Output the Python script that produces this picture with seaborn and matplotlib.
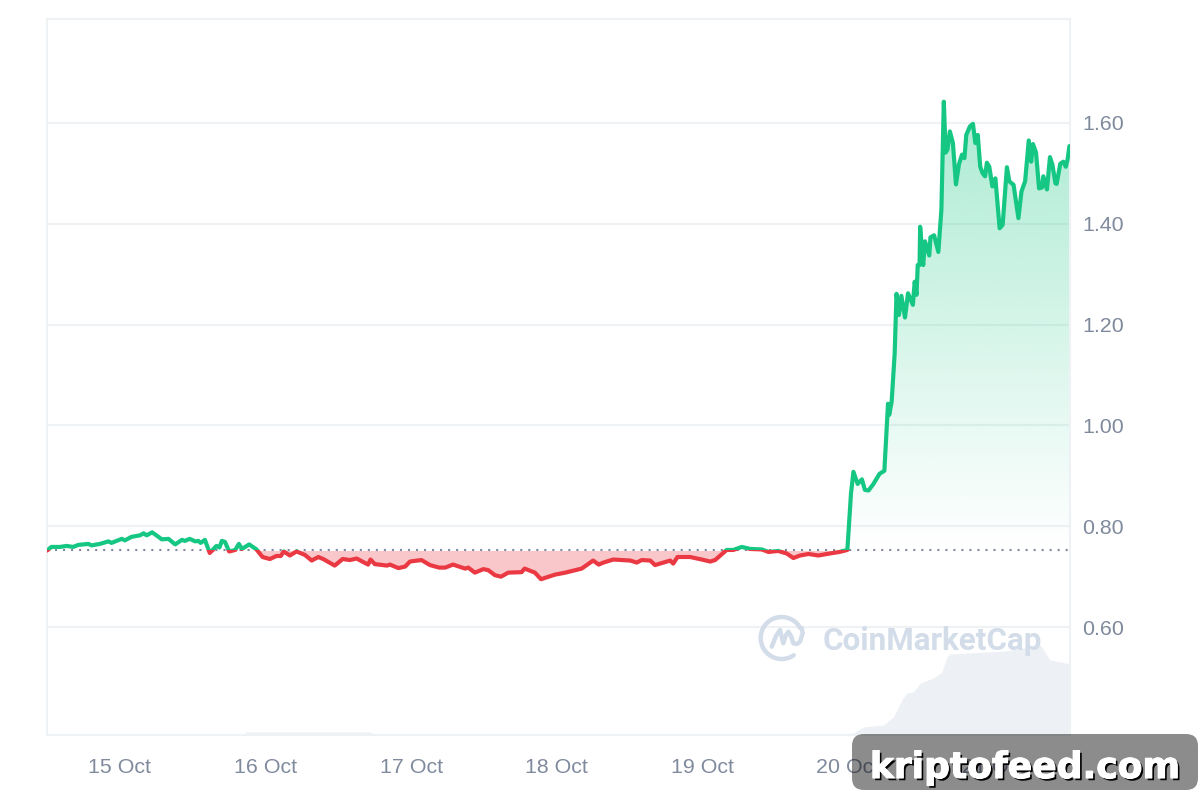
import numpy as np
import pandas as pd
import seaborn as sns
import matplotlib
matplotlib.use("Agg")
import matplotlib.pyplot as plt
import matplotlib.patheffects as pe
from matplotlib.lines import Line2D
from matplotlib.patches import FancyBboxPatch, Rectangle
from matplotlib.transforms import IdentityTransform

# hours since 15 Oct 00:00, price
hours = [
    -12.0, -11.8, -11.3, -9.9, -8.8, -7.7, -6.9, -5.2, -4.7, -3.3, -1.9, -1.4, 0.3, 0.8, 1.9, 3.3, 3.9, 4.4,
    5.3, 6.0, 6.9, 8.0, 9.1, 10.2, 10.7, 11.5, 12.4, 12.9, 13.3, 14.0, 14.8, 15.9, 16.4, 16.8, 17.3, 18.0,
    19.0, 19.6, 20.1, 21.3, 22.5, 23.5, 24.7, 25.8, 26.5, 27.0, 28.0, 29.1, 30.5, 31.6, 32.7, 33.5, 35.4,
    36.7, 37.9, 39.0, 40.9, 41.3, 42.0, 44.0, 44.5, 45.9, 47.0, 47.8, 49.7, 51.1, 52.6, 53.6, 54.9, 56.9,
    57.4, 58.5, 59.9, 60.7, 61.8, 62.8, 64.0, 66.2, 66.7, 68.4, 69.4, 71.7, 73.4, 76.1, 78.0, 78.9, 79.7,
    81.3, 84.1, 85.2, 86.0, 87.4, 88.2, 90.7, 91.2, 91.9, 94.0, 95.9, 97.3, 98.1, 100.0, 101.1, 102.5,
    103.9, 105.8, 106.9, 108.5, 109.9, 111.0, 112.1, 113.5, 115.1, 117.0, 118.6, 119.9,
    120.5, 120.9, 121.6, 122.3, 122.8, 123.4, 124.2, 125.2, 126.0, 126.6, 126.8, 127.2, 127.7, 128.0,
    128.4, 128.8, 129.4, 129.9, 130.7, 131.0, 131.3, 131.5, 131.8, 131.9, 132.4, 132.7, 133.4, 133.6,
    134.2, 134.9, 135.4, 135.8, 136.1, 136.4, 136.8, 137.3, 137.8, 138.3, 138.8, 139.2, 139.5, 140.1,
    140.6, 141.0, 141.4, 141.8, 142.2, 142.6, 142.9, 143.3, 143.8, 144.3, 145.0, 145.5, 146.2, 146.6,
    147.3, 148.1, 148.6, 149.2, 149.8, 150.2, 150.5, 151.0, 151.5, 152.0, 152.2, 152.8, 153.3, 153.7,
    154.2, 154.4, 155.0, 155.5, 155.9, 156.2, 156.5,
]
prices = [
    0.752, 0.754, 0.759, 0.759, 0.761, 0.759, 0.763, 0.765, 0.762, 0.765, 0.770, 0.767, 0.775, 0.772, 0.779, 0.782, 0.786, 0.782,
    0.788, 0.782, 0.774, 0.775, 0.764, 0.773, 0.771, 0.775, 0.770, 0.771, 0.767, 0.773, 0.747, 0.761, 0.758, 0.771, 0.769, 0.750,
    0.753, 0.765, 0.755, 0.764, 0.754, 0.739, 0.735, 0.741, 0.741, 0.750, 0.742, 0.750, 0.743, 0.732, 0.739, 0.735, 0.722,
    0.735, 0.733, 0.736, 0.724, 0.734, 0.725, 0.722, 0.724, 0.717, 0.720, 0.730, 0.733, 0.723, 0.718, 0.718, 0.724, 0.716,
    0.718, 0.708, 0.715, 0.713, 0.703, 0.700, 0.708, 0.709, 0.716, 0.708, 0.695, 0.704, 0.708, 0.716, 0.732, 0.724, 0.728,
    0.734, 0.732, 0.728, 0.733, 0.732, 0.723, 0.732, 0.726, 0.739, 0.739, 0.734, 0.730, 0.733, 0.753, 0.753, 0.759,
    0.755, 0.754, 0.749, 0.751, 0.746, 0.737, 0.742, 0.745, 0.742, 0.746, 0.749, 0.753,
    0.865, 0.908, 0.884, 0.893, 0.872, 0.871, 0.884, 0.904, 0.910, 1.043, 1.021, 1.047, 1.143, 1.261,
    1.219, 1.257, 1.214, 1.262, 1.239, 1.285, 1.259, 1.318, 1.318, 1.394, 1.318, 1.365, 1.337, 1.373,
    1.377, 1.344, 1.428, 1.642, 1.541, 1.547, 1.583, 1.560, 1.478, 1.518, 1.537, 1.530, 1.576, 1.593,
    1.598, 1.560, 1.576, 1.513, 1.500, 1.494, 1.521, 1.513, 1.474, 1.490, 1.391, 1.398, 1.512, 1.484,
    1.477, 1.411, 1.464, 1.484, 1.565, 1.523, 1.558, 1.541, 1.470, 1.472, 1.494, 1.468, 1.532, 1.517,
    1.480, 1.479, 1.519, 1.523, 1.513, 1.527, 1.554,
]
base_price = 0.752

# volume strip at the bottom, arbitrary units (no scale shown)
vol_hours = [20.6, 20.7, 41.4, 41.5, 118.7, 120.9, 122.5, 125.8, 127.5, 128.9, 129.7, 130.8, 131.9, 134.1,
             135.5, 136.3, 136.8, 146.0, 151.7, 153.3, 155.0, 156.6]
vol_values = [0, 3, 3, 0, 0, 2, 8, 10, 18, 35, 42, 43, 52, 57, 63, 78, 81, 84, 90, 75, 73, 71]

y_ticks = [0.60, 0.80, 1.00, 1.20, 1.40, 1.60]
x_ticks = [0, 24, 48, 72, 96, 120, 144]
x_labels = ["15 Oct", "16 Oct", "17 Oct", "18 Oct", "19 Oct", "20 Oct", "21 Oct"]

GREEN = "#16c784"
RED = "#ea3943"
FRAME = "#eff2f5"
LABEL = "#808a9d"
MARK = "#d3dce9"

W, H = 1200, 800


def fx(x):
    return x / W


def fy(y):
    return 1 - y / H


sns.set_theme(style="white")
plt.rcParams["font.family"] = ["Liberation Sans", "DejaVu Sans"]

df = pd.DataFrame({"hour": hours, "price": prices})
vol = pd.DataFrame({"hour": vol_hours, "value": vol_values})

fig = plt.figure(figsize=(12, 8), dpi=100, facecolor="white")
rect = [fx(47), fy(735), (1070 - 47) / W, (735 - 19) / H]
ax_vol = fig.add_axes(rect)
ax = fig.add_axes(rect)
ax.patch.set_visible(False)

# volume behind everything
ax_vol.fill_between(vol["hour"], 0, vol["value"], color="#edf0f4", lw=0)
ax_vol.set_xlim(-12.03, 156.6)
ax_vol.set_ylim(0, 716)
ax_vol.set_axis_off()

ax.set_xlim(-12.03, 156.6)
ax.set_ylim(0.386, 1.806)
y0, y1 = ax.get_ylim()
x0, x1 = ax.get_xlim()

ax.yaxis.tick_right()
ax.set_yticks(y_ticks)
ax.set_yticklabels([f"{v:.2f}" for v in y_ticks])
ax.set_xticks(x_ticks)
ax.set_xticklabels(x_labels)
ax.tick_params(axis="both", length=0, labelsize=15.4, labelcolor=LABEL)
ax.tick_params(axis="x", pad=16.5)
ax.tick_params(axis="y", pad=9)
ax.yaxis.grid(True, color=FRAME, lw=1.5, zorder=0)
ax.xaxis.grid(False)
ax.set_axisbelow(True)
for s in ax.spines.values():
    s.set_color(FRAME)
    s.set_linewidth(1.5)

above = Rectangle((x0, base_price), x1 - x0, y1 - base_price, transform=ax.transData)
below = Rectangle((x0, y0), x1 - x0, base_price - y0, transform=ax.transData)

# green gradient above the open price, flat pink below
fill = ax.fill_between(df["hour"], base_price, df["price"].clip(lower=base_price), color="none", lw=0)
grad = np.zeros((256, 1, 4))
grad[..., 0], grad[..., 1], grad[..., 2] = matplotlib.colors.to_rgb(GREEN)
grad[:, 0, 3] = np.linspace(0.36, 0.0, 256)
img = ax.imshow(grad, extent=[x0, x1, base_price, max(prices)], aspect="auto", origin="upper", zorder=2)
img.set_clip_path(fill.get_paths()[0], fill.get_transform())
ax.set_xlim(x0, x1)
ax.set_ylim(y0, y1)

ax.fill_between(df["hour"], base_price, df["price"].clip(upper=base_price), color=RED, alpha=0.28, lw=0, zorder=2)

ax.axhline(base_price, color=LABEL, lw=1.5, ls=(0, (1, 2.85)), zorder=3)

# same line twice, clipped to either side of the open price
for colour, clip in [(GREEN, above), (RED, below)]:
    sns.lineplot(data=df, x="hour", y="price", estimator=None, sort=False, color=colour, lw=3.0, ax=ax, zorder=4)
    line = ax.lines[-1]
    line.set_clip_path(clip)
    line.set_solid_joinstyle("round")
ax.set_xlabel("")
ax.set_ylabel("")

# CoinMarketCap watermark
ang = np.radians(np.linspace(28, 305, 80))
fig.add_artist(Line2D(fx(781.7 + 21 * np.cos(ang)), fy(638 - 21 * np.sin(ang)), transform=fig.transFigure,
                      color=MARK, lw=3.2, solid_capstyle="round", zorder=5))
m_x = np.array([771.7, 776, 780, 783.3, 785.5, 788.3, 791, 793.3, 797, 800, 802.7, 801.7])
m_y = np.array([646.7, 636, 630, 643.3, 636, 631.7, 636, 643.3, 644, 641.7, 633, 628])
fig.add_artist(Line2D(fx(m_x), fy(m_y), transform=fig.transFigure, color=MARK, lw=3.2,
                      solid_capstyle="round", solid_joinstyle="round", zorder=5))
fig.text(fx(823), fy(641), "CoinMarketCap", color=MARK, fontsize=22.6, fontweight="bold",
         family=["Roboto", "DejaVu Sans"], ha="left", va="center", zorder=5)

# site badge in the corner
badge = FancyBboxPatch((852, H - 790), 346, 56, boxstyle="round,pad=0,rounding_size=12",
                       transform=IdentityTransform(), facecolor="black", edgecolor="none", alpha=0.45, lw=0, zorder=6)
fig.add_artist(badge)
t = fig.text(fx(1025), fy(768), "kriptofeed.com", color="white", fontsize=26, fontweight="bold",
             family=["DejaVu Sans"], ha="center", va="center", zorder=7)
t.set_path_effects([pe.withSimplePatchShadow(offset=(1.6, -1.6), shadow_rgbFace="black", alpha=1.0),
                    pe.Stroke(linewidth=0.8, foreground="white"), pe.Normal()])

fig.savefig("out.png", dpi=100)
